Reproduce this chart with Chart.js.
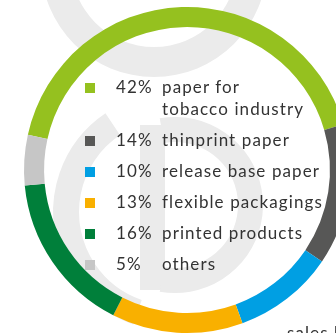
<!DOCTYPE html>
<html>
<head>
<meta charset="utf-8">
<script src="https://cdn.jsdelivr.net/npm/chart.js@4.4.1/dist/chart.umd.min.js"></script>
<style>
    html, body { margin: 0; padding: 0; background: #fff; }
    #wrap { position: relative; width: 336px; height: 333px; overflow: hidden; }
    #salesChart { position: absolute; left: 0; top: 0; }
    #legend { position: absolute; left: 85px; top: 76px; font-family: Lato, sans-serif; font-size: 17px; line-height: 22px; letter-spacing: 1.1px; color: #333; }
    .item { position: relative; padding-left: 77px; margin-bottom: 9px; white-space: pre-line; }
    .dot { position: absolute; left: 0; top: 7px; width: 10px; height: 10px; }
    .pct { position: absolute; left: 31px; top: 0; }
    #caption { position: absolute; left: 287px; top: 322px; font-family: Lato, sans-serif; font-size: 17px; line-height: 22px; letter-spacing: 1.1px; color: #333; white-space: nowrap; }
</style>
</head>
<body>
<div id="wrap">
    <canvas id="salesChart" width="374" height="340"></canvas>
    <div id="legend"></div>
    <div id="caption">sales by</div>
</div>
<script>
// === data ===
const segments = ['paper for\ntobacco industry', 'thinprint paper', 'release base paper', 'flexible packagings', 'printed products', 'others'];
const shares = [42, 14, 10, 13, 16, 5];
const segmentColors = ['#95c11f', '#575756', '#009fe3', '#f9b000', '#007f3a', '#c6c6c6'];
const logoGrey = '#ebebeb';

// light grey logo shapes behind the ring
function band(ctx, cx, cy, R, r, a0, a1) {
    const d = Math.PI / 180;
    ctx.beginPath();
    ctx.arc(cx, cy, R, a0 * d, a1 * d);
    ctx.arc(cx, cy, r, a1 * d, a0 * d, true);
    ctx.closePath();
    ctx.fill();
}

const logoBackdrop = {
    id: 'logoBackdrop',
    beforeDraw(chart) {
        const ctx = chart.ctx;
        ctx.save();
        ctx.fillStyle = logoGrey;
        band(ctx, 154, -36, 113, 83, 0, 360);
        band(ctx, 172, 212, 119, 93, 109, 236);
        ctx.fillRect(140, 125, 25, 165);
        band(ctx, 175, 205, 88, 63, -100, 100);
        ctx.restore();
    }
};

new Chart(document.getElementById('salesChart'), {
    type: 'doughnut',
    data: {
        labels: segments,
        datasets: [{
            data: shares,
            backgroundColor: segmentColors,
            borderWidth: 0
        }]
    },
    options: {
        responsive: false,
        animation: false,
        rotation: -77.5,
        cutout: '87.7%',
        layout: { padding: 7 },
        plugins: { legend: { display: false }, tooltip: { enabled: false } }
    },
    plugins: [logoBackdrop]
});

// legend list
const legend = document.getElementById('legend');
segments.forEach((name, i) => {
    const item = document.createElement('div');
    item.className = 'item';
    item.innerHTML = `<span class="dot" style="background:${segmentColors[i]}"></span><span class="pct">${shares[i]}%</span>`;
    item.appendChild(document.createTextNode(name));
    legend.appendChild(item);
});
</script>
</body>
</html>
